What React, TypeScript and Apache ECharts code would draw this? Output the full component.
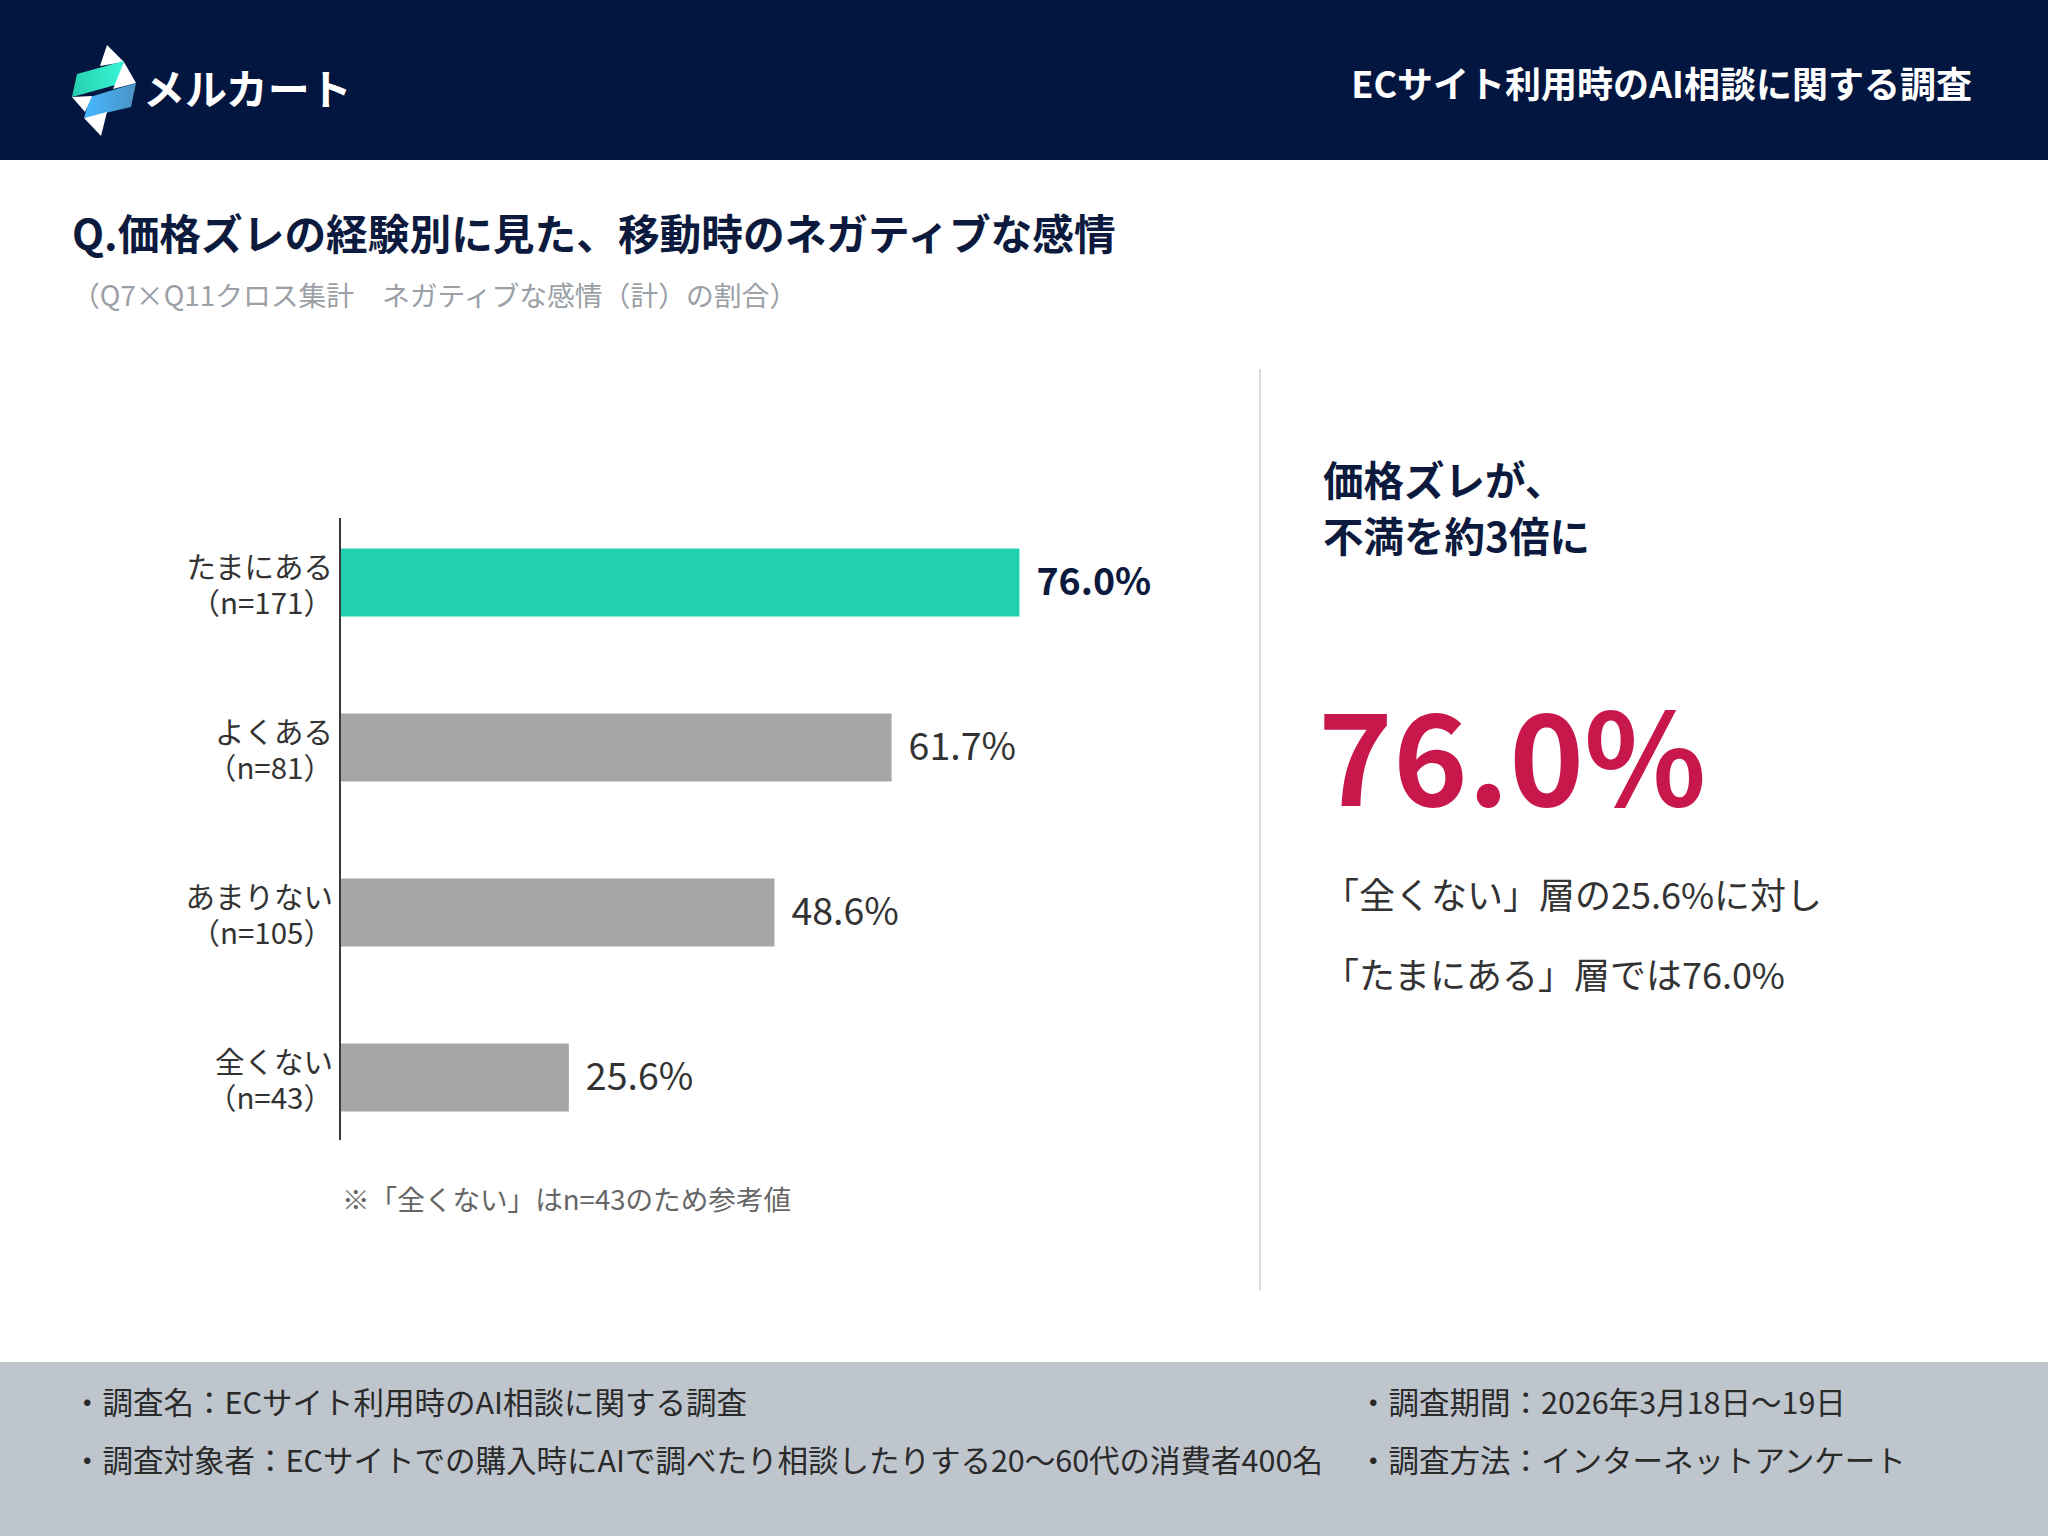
import React, { useEffect, useRef } from "react";
import * as echarts from "echarts";

const categories = ["たまにある", "よくある", "あまりない", "全くない"];
const sampleSizes = [171, 81, 105, 43];
const values = [76.0, 61.7, 48.6, 25.6];
const highlightIndex = 0;

const brandName = "メルカート";
const headerTitle = "ECサイト利用時のAI相談に関する調査";
const chartTitle = "Q.価格ズレの経験別に見た、移動時のネガティブな感情";
const chartSubtitle = "（Q7×Q11クロス集計　ネガティブな感情（計）の割合）";
const noteText = "※「全くない」はn=43のため参考値";
const headlineLines = ["価格ズレが、", "不満を約3倍に"];
const bigValue = "76.0%";
const summaryLines = ["「全くない」層の25.6%に対し", "「たまにある」層では76.0%"];
const footerLeft = [
  "・調査名：ECサイト利用時のAI相談に関する調査",
  "・調査対象者：ECサイトでの購入時にAIで調べたり相談したりする20〜60代の消費者400名",
];
const footerRight = ["・調査期間：2026年3月18日〜19日", "・調査方法：インターネットアンケート"];

const FONT = "'Noto Sans CJK JP', 'Noto Sans', sans-serif";
const NAVY = "#02163F";
const TITLE_NAVY = "#0C1A3D";
const TEAL = "#21CFB1";
const GRAY_BAR = "#A6A6A6";
const CRIMSON = "#C8174B";

function txt(text: string, x: number, y: number, size: number, fill: string, weight: string | number = "normal", align = "left", z = 10) {
  return {
    type: "text",
    x,
    y,
    z,
    style: {
      text,
      fill,
      fontSize: size,
      fontWeight: weight,
      fontFamily: FONT,
      textAlign: align,
      textVerticalAlign: "middle",
    },
  };
}

export default function App() {
  const ref = useRef<HTMLDivElement>(null);

  useEffect(() => {
    if (!ref.current) return;
    const chart = echarts.init(ref.current, null, { renderer: "svg" });

    const logo = [
      { pts: [[107, 45], [124, 62], [100, 66]], fill: "#FFFFFF" },
      {
        pts: [[77, 74], [124, 61], [119, 84], [72, 97]],
        fill: new echarts.graphic.LinearGradient(0, 0, 1, 0, [
          { offset: 0, color: "#25CFAE" },
          { offset: 1, color: "#3AF5D5" },
        ]),
      },
      { pts: [[124, 62], [136, 83], [113, 89]], fill: "#FFFFFF" },
      {
        pts: [[90, 97], [136, 83], [131, 107], [84, 118]],
        fill: new echarts.graphic.LinearGradient(0, 0, 1, 0, [
          { offset: 0, color: "#45B8FF" },
          { offset: 1, color: "#4C93C4" },
        ]),
      },
      { pts: [[72, 97], [92, 96], [85, 112]], fill: "#FFFFFF" },
      { pts: [[84, 118], [107, 112], [101, 136]], fill: "#FFFFFF" },
    ].map((p) => ({ type: "polygon", z: 5, shape: { points: p.pts }, style: { fill: p.fill } }));

    const graphics: any[] = [
      { type: "rect", z: 0, shape: { x: 0, y: 0, width: 2048, height: 160 }, style: { fill: NAVY } },
      { type: "rect", z: 0, shape: { x: 0, y: 1362, width: 2048, height: 174 }, style: { fill: "#BFC5CC" } },
      ...logo,
      txt(brandName, 143, 86, 42, "#FFFFFF", "bold"),
      txt(headerTitle, 1972, 82, 36, "#FFFFFF", "bold", "right"),
      txt(chartTitle, 72, 232, 41.7, TITLE_NAVY, "bold"),
      txt(chartSubtitle, 72, 294, 27.8, "#9AA0A6"),
      { type: "line", z: 5, shape: { x1: 340, y1: 518, x2: 340, y2: 1140 }, style: { stroke: "#3A3A3A", lineWidth: 2 } },
      txt(noteText, 342, 1198, 27.6, "#666666"),
      { type: "line", z: 5, shape: { x1: 1260, y1: 369, x2: 1260, y2: 1290 }, style: { stroke: "#DADADA", lineWidth: 2 } },
      txt(headlineLines[0], 1323, 478, 40.5, TITLE_NAVY, "bold"),
      txt(headlineLines[1], 1323, 534, 40.5, TITLE_NAVY, "bold"),
      txt(bigValue, 1318, 751, 127, CRIMSON, "bold"),
      txt(summaryLines[0], 1323, 893, 36, "#333333"),
      txt(summaryLines[1], 1323, 973, 36, "#333333"),
      txt(footerLeft[0], 72, 1401, 30.5, "#2A2A2A"),
      txt(footerLeft[1], 72, 1459, 30.5, "#2A2A2A"),
      txt(footerRight[0], 1358, 1401, 30.5, "#2A2A2A"),
      txt(footerRight[1], 1358, 1459, 30.5, "#2A2A2A"),
    ];

    const option: any = {
      animation: false,
      backgroundColor: "#FFFFFF",
      textStyle: { fontFamily: FONT },
      graphic: { elements: graphics },
      grid: { left: 340, top: 500, width: 894, height: 660, containLabel: false },
      xAxis: { type: "value", min: 0, max: 100, show: false },
      yAxis: {
        type: "category",
        inverse: true,
        data: categories,
        axisLine: { show: false },
        axisTick: { show: false },
        splitLine: { show: false },
        axisLabel: {
          margin: 7,
          fontSize: 29.5,
          lineHeight: 36,
          color: "#333333",
          fontFamily: FONT,
          align: "right",
          formatter: (v: string, i: number) => `${v}\n（n=${sampleSizes[i]}）`,
        },
      },
      series: [
        {
          type: "bar",
          barWidth: 68,
          data: values.map((v, i) => ({
            value: v,
            itemStyle: { color: i === highlightIndex ? TEAL : GRAY_BAR },
            label: {
              show: true,
              position: "right",
              distance: 17,
              offset: [0, -4],
              fontSize: 37.5,
              fontFamily: FONT,
              fontWeight: i === highlightIndex ? "bold" : "normal",
              color: i === highlightIndex ? TITLE_NAVY : "#333333",
              formatter: (p: any) => `${Number(p.value).toFixed(1)}%`,
            },
          })),
        },
      ],
    };

    chart.setOption(option);
    return () => chart.dispose();
  }, []);

  return (
    <div
      ref={ref}
      style={{ position: "absolute", left: 0, top: 0, width: 2048, height: 1536, background: "#FFFFFF" }}
    />
  );
}
